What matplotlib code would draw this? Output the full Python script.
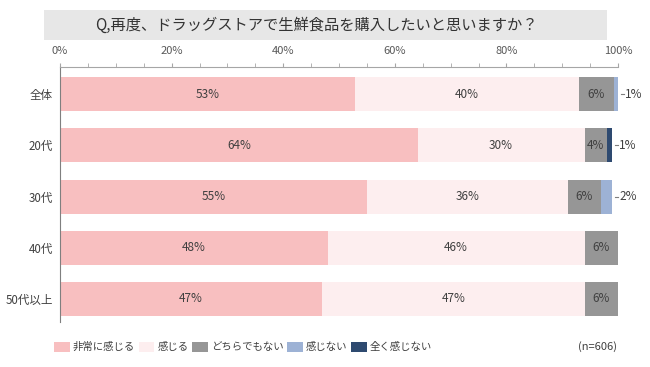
import matplotlib
matplotlib.use("Agg")
import matplotlib.pyplot as plt
from matplotlib.patches import Rectangle
from matplotlib.ticker import MultipleLocator, FuncFormatter

plt.rcParams['font.family'] = ['Noto Sans CJK JP', 'DejaVu Sans']

title = "Q,再度、ドラッグストアで生鮮食品を購入したいと思いますか？"
categories = ["全体", "20代", "30代", "40代", "50代以上"]
series_names = ["非常に感じる", "感じる", "どちらでもない", "感じない", "全く感じない"]
very = [52.9, 64.1, 55.0, 48.0, 47.0]
feel = [40.1, 29.9, 36.0, 46.0, 47.0]
neutral = [6.3, 4.0, 6.0, 6.0, 6.0]
not_feel = [0.7, 0.0, 2.0, 0.0, 0.0]
not_at_all = [0.0, 1.0, 0.0, 0.0, 0.0]
note = "(n=606)"

colors = ["#F8BFC0", "#FDEEEF", "#969696", "#9DB2D5", "#2E4A70"]
series = [very, feel, neutral, not_feel, not_at_all]

fig = plt.figure(figsize=(6.5, 3.67), dpi=100)
ax = fig.add_axes([60/650, 1-322/367, 558/650, (322-67)/367])

text_color = "#404040"
ypos = list(range(len(categories)))
left = [0.0]*len(categories)
handles = []
for si, (vals, col) in enumerate(zip(series, colors)):
    bars = ax.barh(ypos, vals, left=left, height=0.665, color=col, label=series_names[si])
    handles.append(bars)
    for i, v in enumerate(vals):
        if v >= 3.5:
            ax.text(left[i] + v/2, i, f"{round(v)}%", ha="center", va="center",
                    fontsize=8.5, color=text_color)
        elif v > 0:
            end = left[i] + v
            ax.plot([end + 0.45, end + 1.0], [i, i], color="#7f7f7f", lw=0.8, clip_on=False)
            ax.text(end + 1.2, i, f"{round(v)}%", ha="left", va="center",
                    fontsize=8.5, color=text_color, clip_on=False)
    left = [l + v for l, v in zip(left, vals)]

ax.set_xlim(0, 100)
ax.set_ylim(4.45, -0.53)
ax.set_yticks(ypos)
ax.set_yticklabels(categories, fontsize=8.3, color=text_color)
ax.tick_params(axis="y", length=0, pad=5)
ax.xaxis.tick_top()
ax.xaxis.set_major_locator(MultipleLocator(20))
ax.xaxis.set_minor_locator(MultipleLocator(5))
ax.xaxis.set_major_formatter(FuncFormatter(lambda x, p: f"{int(x)}%"))
ax.tick_params(axis="x", which="both", direction="out", length=3, color="#a6a6a6",
               labelsize=8, labelcolor="#595959", pad=5)
for s in ["right", "bottom"]:
    ax.spines[s].set_visible(False)
ax.spines["top"].set_color("#a6a6a6")
ax.spines["left"].set_color("#7f7f7f")
ax.spines["top"].set_linewidth(0.8)
ax.spines["left"].set_linewidth(0.8)

# title box
fig.patches.append(Rectangle((44/650, 1-40/367), (607-44)/650, 30/367,
                             transform=fig.transFigure, facecolor="#e7e7e7",
                             edgecolor="none", zorder=0))
fig.text(316/650, 1-25/367, title, ha="center", va="center", fontsize=11, color="#333333")

leg = fig.legend(handles=handles, labels=series_names, loc="center left",
                 bbox_to_anchor=(50/650, 1-347/367), ncol=5, frameon=False,
                 fontsize=7.5, handlelength=1.5, handleheight=1.1, handletextpad=0.3,
                 columnspacing=0.35, borderaxespad=0)
for t in leg.get_texts():
    t.set_color(text_color)
fig.text(617/650, 1-347/367, note, ha="right", va="center", fontsize=8, color=text_color)

fig.savefig("out.png", dpi=100)
